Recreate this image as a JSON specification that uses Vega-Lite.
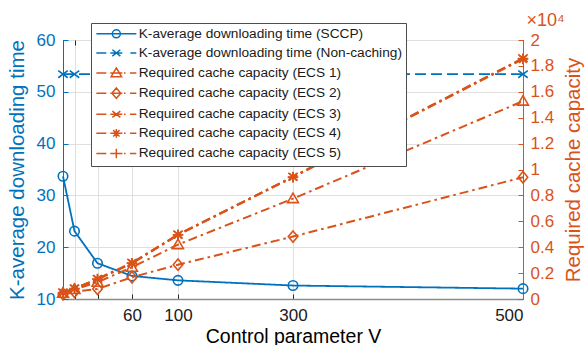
{
  "$schema": "https://vega.github.io/schema/vega-lite/v6.json",
  "width": 460,
  "height": 259,
  "autosize": {"type": "none"},
  "padding": {"left": 63, "top": 40, "right": 63, "bottom": 46},
  "config": {
    "font": "Liberation Sans",
    "view": {"stroke": "#262626", "strokeWidth": 1},
    "axis": {"titleFontWeight": "normal", "labelFont": "Liberation Sans", "titleFont": "Liberation Sans"}
  },
  "datasets": {
    "time": [
      {"V": 0, "series": "K-average downloading time (SCCP)", "value": 33.7},
      {"V": 10, "series": "K-average downloading time (SCCP)", "value": 23.1},
      {"V": 30, "series": "K-average downloading time (SCCP)", "value": 16.9},
      {"V": 60, "series": "K-average downloading time (SCCP)", "value": 14.45},
      {"V": 100, "series": "K-average downloading time (SCCP)", "value": 13.6},
      {"V": 300, "series": "K-average downloading time (SCCP)", "value": 12.6},
      {"V": 500, "series": "K-average downloading time (SCCP)", "value": 12.0},
      {"V": 0, "series": "K-average downloading time (Non-caching)", "value": 53.4},
      {"V": 10, "series": "K-average downloading time (Non-caching)", "value": 53.4},
      {"V": 30, "series": "K-average downloading time (Non-caching)", "value": 53.4},
      {"V": 60, "series": "K-average downloading time (Non-caching)", "value": 53.4},
      {"V": 100, "series": "K-average downloading time (Non-caching)", "value": 53.4},
      {"V": 300, "series": "K-average downloading time (Non-caching)", "value": 53.4},
      {"V": 500, "series": "K-average downloading time (Non-caching)", "value": 53.4}
    ],
    "cap": [
      {"V": 0, "series": "Required cache capacity (ECS 1)", "value": 450},
      {"V": 10, "series": "Required cache capacity (ECS 1)", "value": 740},
      {"V": 30, "series": "Required cache capacity (ECS 1)", "value": 1300},
      {"V": 60, "series": "Required cache capacity (ECS 1)", "value": 2450},
      {"V": 100, "series": "Required cache capacity (ECS 1)", "value": 4200},
      {"V": 300, "series": "Required cache capacity (ECS 1)", "value": 7750},
      {"V": 500, "series": "Required cache capacity (ECS 1)", "value": 15280},
      {"V": 0, "series": "Required cache capacity (ECS 2)", "value": 370},
      {"V": 10, "series": "Required cache capacity (ECS 2)", "value": 560},
      {"V": 30, "series": "Required cache capacity (ECS 2)", "value": 780},
      {"V": 60, "series": "Required cache capacity (ECS 2)", "value": 1680},
      {"V": 100, "series": "Required cache capacity (ECS 2)", "value": 2650},
      {"V": 300, "series": "Required cache capacity (ECS 2)", "value": 4820},
      {"V": 500, "series": "Required cache capacity (ECS 2)", "value": 9400},
      {"V": 0, "series": "Required cache capacity (ECS 3)", "value": 500},
      {"V": 10, "series": "Required cache capacity (ECS 3)", "value": 820},
      {"V": 30, "series": "Required cache capacity (ECS 3)", "value": 1560},
      {"V": 60, "series": "Required cache capacity (ECS 3)", "value": 2800},
      {"V": 100, "series": "Required cache capacity (ECS 3)", "value": 4980},
      {"V": 300, "series": "Required cache capacity (ECS 3)", "value": 9450},
      {"V": 500, "series": "Required cache capacity (ECS 3)", "value": 18600},
      {"V": 0, "series": "Required cache capacity (ECS 4)", "value": 490},
      {"V": 10, "series": "Required cache capacity (ECS 4)", "value": 800},
      {"V": 30, "series": "Required cache capacity (ECS 4)", "value": 1540},
      {"V": 60, "series": "Required cache capacity (ECS 4)", "value": 2770},
      {"V": 100, "series": "Required cache capacity (ECS 4)", "value": 4960},
      {"V": 300, "series": "Required cache capacity (ECS 4)", "value": 9420},
      {"V": 500, "series": "Required cache capacity (ECS 4)", "value": 18530},
      {"V": 0, "series": "Required cache capacity (ECS 5)", "value": 480},
      {"V": 10, "series": "Required cache capacity (ECS 5)", "value": 790},
      {"V": 30, "series": "Required cache capacity (ECS 5)", "value": 1520},
      {"V": 60, "series": "Required cache capacity (ECS 5)", "value": 2750},
      {"V": 100, "series": "Required cache capacity (ECS 5)", "value": 4940},
      {"V": 300, "series": "Required cache capacity (ECS 5)", "value": 9400},
      {"V": 500, "series": "Required cache capacity (ECS 5)", "value": 18560}
    ]
  },
  "layer": [
    {
      "data": {"name": "time"},
      "encoding": {
        "x": {
          "field": "V", "type": "quantitative",
          "scale": {"domain": [0, 100, 300, 500], "range": [0, {"expr": "width/4"}, {"expr": "width/2"}, {"expr": "width"}], "nice": false, "zero": false},
          "axis": {
            "orient": "bottom", "values": [0, 10, 30, 60, 100, 300, 500],
            "labelExpr": "datum.value >= 60 ? datum.label : ''",
            "title": "Control parameter V", "titleFontSize": 19.5, "titleColor": "#000000", "titlePadding": 4,
            "labelFontSize": 17, "labelColor": "#1a1a1a", "labelPadding": 13,
            "tickSize": -5, "tickColor": "#262626", "domainColor": "#8c8c8c", "domainWidth": 1.5,
            "grid": true, "gridColor": "#dfdfdf"
          }
        },
        "y": {
          "field": "value", "type": "quantitative",
          "scale": {"domain": [10, 60], "nice": false, "zero": false},
          "axis": {
            "orient": "left", "values": [10, 20, 30, 40, 50, 60],
            "title": "K-average downloading time", "titleColor": "#0072BD", "titleFontSize": 20.5, "titlePadding": 9,
            "labelColor": "#0072BD", "labelFontSize": 17, "labelPadding": 13,
            "tickSize": -5, "tickColor": "#0072BD", "domainColor": "#0072BD",
            "grid": true, "gridColor": "#dfdfdf"
          }
        },
        "color": {
          "field": "series", "type": "nominal",
          "scale": {
            "domain": ["K-average downloading time (SCCP)", "K-average downloading time (Non-caching)", "Required cache capacity (ECS 1)", "Required cache capacity (ECS 2)", "Required cache capacity (ECS 3)", "Required cache capacity (ECS 4)", "Required cache capacity (ECS 5)"],
            "range": ["#0072BD", "#0072BD", "#D95319", "#D95319", "#D95319", "#D95319", "#D95319"]
          },
          "legend": null
        }
      },
      "layer": [
        {
          "mark": {"type": "line", "strokeWidth": 1.8},
          "encoding": {
            "strokeDash": {
              "field": "series", "type": "nominal",
              "scale": {
                "domain": ["K-average downloading time (SCCP)", "K-average downloading time (Non-caching)"],
                "range": [[1, 0], [11, 5]]
              },
              "legend": null
            }
          }
        },
        {
          "mark": {"type": "point", "filled": false, "size": 90, "strokeWidth": 1.6, "opacity": 1},
          "encoding": {
            "shape": {
              "field": "series", "type": "nominal",
              "scale": {
                "domain": ["K-average downloading time (SCCP)", "K-average downloading time (Non-caching)"],
                "range": ["M-1,0A1,1,0,1,1,1,0A1,1,0,1,1,-1,0Z", "M-1,-0.75L1,0.75M-1,0.75L1,-0.75"]
              },
              "legend": null
            }
          }
        }
      ]
    },
    {
      "data": {"name": "cap"},
      "encoding": {
        "x": {
          "field": "V", "type": "quantitative",
          "scale": {"domain": [0, 100, 300, 500], "range": [0, {"expr": "width/4"}, {"expr": "width/2"}, {"expr": "width"}], "nice": false, "zero": false},
          "axis": {
            "orient": "top", "values": [0, 10, 30, 60, 100, 300, 500],
            "labels": false, "domain": false, "grid": false,
            "tickSize": -5, "tickColor": "#262626",
            "title": "×10⁴", "titleColor": "#D95319", "titleFontSize": 18, "titleFont": "Liberation Sans",
            "titleX": 463, "titleY": -14.5, "titleAlign": "left", "titleBaseline": "alphabetic", "titleAngle": 0, "titleAnchor": null
          }
        },
        "y": {
          "field": "value", "type": "quantitative",
          "scale": {"domain": [0, 20000], "nice": false, "zero": false},
          "axis": {
            "orient": "right", "values": [0, 2000, 4000, 6000, 8000, 10000, 12000, 14000, 16000, 18000, 20000],
            "labelExpr": "format(datum.value / 10000, '~g')",
            "title": "Required cache capacity", "titleColor": "#D95319", "titleFontSize": 20.5, "titlePadding": 10,
            "titleAngle": 270, "titleBaseline": "top",
            "labelColor": "#D95319", "labelFontSize": 17, "labelPadding": 12,
            "tickSize": -5, "tickColor": "#D95319", "domainColor": "#D95319",
            "grid": false
          }
        },
        "color": {
          "field": "series", "type": "nominal",
          "scale": {
            "domain": ["K-average downloading time (SCCP)", "K-average downloading time (Non-caching)", "Required cache capacity (ECS 1)", "Required cache capacity (ECS 2)", "Required cache capacity (ECS 3)", "Required cache capacity (ECS 4)", "Required cache capacity (ECS 5)"],
            "range": ["#0072BD", "#0072BD", "#D95319", "#D95319", "#D95319", "#D95319", "#D95319"]
          },
          "legend": null
        }
      },
      "layer": [
        {
          "mark": {"type": "line", "strokeWidth": 2, "strokeDash": [9, 4, 2.5, 4]}
        },
        {
          "mark": {"type": "point", "filled": false, "size": 90, "strokeWidth": 1.6, "opacity": 1},
          "encoding": {
            "shape": {
              "field": "series", "type": "nominal",
              "scale": {
                "domain": ["Required cache capacity (ECS 1)", "Required cache capacity (ECS 2)", "Required cache capacity (ECS 3)", "Required cache capacity (ECS 4)", "Required cache capacity (ECS 5)"],
                "range": [
                  "M0,-1.15L1.15,0.85L-1.15,0.85Z",
                  "M0,-1.2L1,0L0,1.2L-1,0Z",
                  "M-1,-0.8L1,0.8M-1,0.8L1,-0.8",
                  "M-1.1,0H1.1M0,-1.1V1.1M-0.8,-0.8L0.8,0.8M-0.8,0.8L0.8,-0.8",
                  "M-1.1,0H1.1M0,-1.1V1.1"
                ]
              },
              "legend": null
            }
          }
        }
      ]
    },
    {
      "data": {"name": "time"},
      "transform": [{"filter": "false"}],
      "mark": {"type": "point", "filled": false, "size": 64, "strokeWidth": 1.5, "opacity": 1},
      "encoding": {
        "color": {
          "field": "series", "type": "nominal",
          "scale": {
            "domain": ["K-average downloading time (SCCP)", "K-average downloading time (Non-caching)", "Required cache capacity (ECS 1)", "Required cache capacity (ECS 2)", "Required cache capacity (ECS 3)", "Required cache capacity (ECS 4)", "Required cache capacity (ECS 5)"],
            "range": ["#0072BD", "#0072BD", "#D95319", "#D95319", "#D95319", "#D95319", "#D95319"]
          },
          "legend": {
            "title": null, "orient": "none", "legendX": 28, "legendY": -17, "direction": "vertical",
            "fillColor": "white", "strokeColor": "#4d4d4d", "padding": 4,
            "labelFontSize": 13.7, "labelColor": "#1a1a1a", "labelFont": "Liberation Sans", "labelLimit": 400,
            "symbolSize": 64, "symbolStrokeWidth": 1.5, "symbolOpacity": 1, "symbolOffset": 14.5, "labelOffset": 15.5, "rowPadding": 4.1,
            "zindex": 5
          }
        },
        "shape": {
          "field": "series", "type": "nominal",
          "scale": {
            "domain": ["K-average downloading time (SCCP)", "K-average downloading time (Non-caching)", "Required cache capacity (ECS 1)", "Required cache capacity (ECS 2)", "Required cache capacity (ECS 3)", "Required cache capacity (ECS 4)", "Required cache capacity (ECS 5)"],
            "range": [
              "M-5,0H5M-1,0A1,1,0,1,1,1,0A1,1,0,1,1,-1,0Z",
              "M-5,0H-2.5M-1.5,0H1.5M3.5,0H5M-1,-0.8L1,0.8M-1,0.8L1,-0.8",
              "M-5,0H-2.5M-1.5,0H1.5M1.9,0H2.3M3.4,0H5M0,-1.3L1.3,0.9L-1.3,0.9Z",
              "M-5,0H-2.5M-1.5,0H1.5M1.9,0H2.3M3.4,0H5M0,-1.3L1.1,0L0,1.3L-1.1,0Z",
              "M-5,0H-2.5M-1.5,0H1.5M1.9,0H2.3M3.4,0H5M-1,-0.8L1,0.8M-1,0.8L1,-0.8",
              "M-5,0H-2.5M-1.5,0H1.5M1.9,0H2.3M3.4,0H5M0,-1.1V1.1M-0.8,-0.8L0.8,0.8M-0.8,0.8L0.8,-0.8",
              "M-5,0H-2.5M-1.5,0H1.5M1.9,0H2.3M3.4,0H5M0,-1.2V1.2"
            ]
          },
          "legend": {
            "title": null, "orient": "none", "legendX": 28, "legendY": -17, "direction": "vertical",
            "fillColor": "white", "strokeColor": "#4d4d4d", "padding": 4,
            "labelFontSize": 13.7, "labelColor": "#1a1a1a", "labelFont": "Liberation Sans", "labelLimit": 400,
            "symbolSize": 64, "symbolStrokeWidth": 1.5, "symbolOpacity": 1, "symbolOffset": 14.5, "labelOffset": 15.5, "rowPadding": 4.1,
            "zindex": 5
          }
        }
      }
    }
  ],
  "resolve": {
    "scale": {"y": "independent", "color": "independent", "shape": "independent", "strokeDash": "independent"},
    "axis": {"x": "independent"}
  }
}
